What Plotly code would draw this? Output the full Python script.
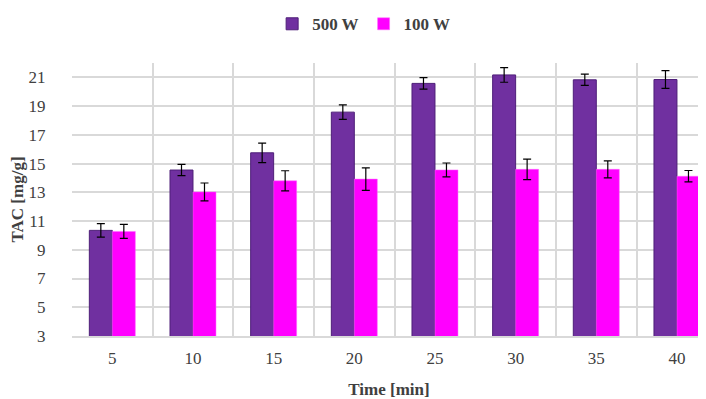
import plotly.graph_objects as go

categories = ["5", "10", "15", "20", "25", "30", "35", "40"]
w500 = [10.35, 14.55, 15.75, 18.58, 20.58, 21.17, 20.83, 20.85]
w500_err = [0.47, 0.39, 0.68, 0.50, 0.40, 0.51, 0.39, 0.62]
w100 = [10.28, 13.03, 13.80, 13.92, 14.56, 14.60, 14.60, 14.12]
w100_err = [0.49, 0.62, 0.70, 0.78, 0.48, 0.71, 0.59, 0.40]

xpos = list(range(len(categories)))
boundaries = [i - 0.5 for i in range(len(categories) + 1)]
xrange = [-0.5, 7.36]

font_family = "Liberation Serif, DejaVu Serif, serif"
txt = "#404040"

fig = go.Figure()
fig.add_trace(go.Bar(
    x=xpos, y=w500, name="<b>500 W</b>",
    marker=dict(color="#7030A0", line=dict(color="#4E1F78", width=1)),
    error_y=dict(type="data", array=w500_err, color="#000000", thickness=1.2, width=4),
))
fig.add_trace(go.Bar(
    x=xpos, y=w100, name="<b>100 W</b>",
    marker=dict(color="#FF00FF", line=dict(color="#FF66FF", width=0.5)),
    error_y=dict(type="data", array=w100_err, color="#000000", thickness=1.2, width=4),
))
fig.add_trace(go.Scatter(x=[], y=[], xaxis="x2", showlegend=False))

fig.update_layout(
    width=698, height=391,
    margin=dict(l=64, r=0, t=55, b=63, autoexpand=False),
    plot_bgcolor="white", paper_bgcolor="white",
    barmode="group", bargap=0.43, bargroupgap=0,
    font=dict(family=font_family, size=16, color=txt),
    legend=dict(orientation="h", x=0.46, xanchor="center", y=1.142, yanchor="middle",
                font=dict(size=17, color=txt), traceorder="normal",
                itemwidth=30, tracegroupgap=0),
    xaxis=dict(range=xrange, tickvals=boundaries, showticklabels=False,
               showgrid=True, gridcolor="#D9D9D9", gridwidth=1.5,
               showline=True, linecolor="#D9D9D9", linewidth=1.5,
               ticks="", zeroline=False, automargin=False),
    xaxis2=dict(range=xrange, overlaying="x", side="bottom", tickvals=xpos,
                ticktext=categories, showgrid=False, ticks="", showline=False,
                zeroline=False, automargin=False, ticklabelstandoff=10,
                tickfont=dict(size=17, color=txt),
                title=dict(text="<b>Time [min]</b>", font=dict(size=17, color=txt), standoff=22)),
    yaxis=dict(range=[3, 22], tick0=3, dtick=2, showgrid=True, gridcolor="#D9D9D9",
               gridwidth=1.5, zeroline=False, ticks="outside", ticklen=22,
               tickcolor="white", showline=False, automargin=False,
               tickfont=dict(size=17, color=txt),
               title=dict(text="<b>TAC [mg/g]</b>", font=dict(size=17, color=txt), standoff=8)),
)

fig.write_html("out.html")
